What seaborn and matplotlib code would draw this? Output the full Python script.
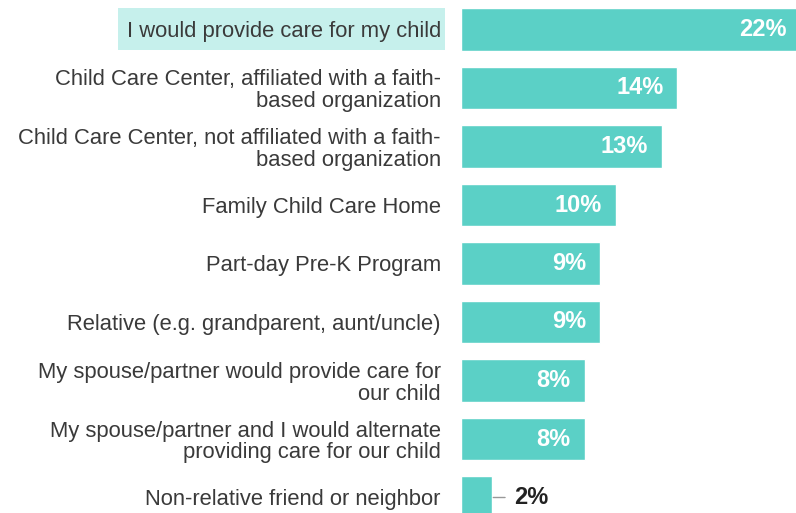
import matplotlib
matplotlib.use("Agg")
import matplotlib.pyplot as plt
import seaborn as sns
import pandas as pd
from matplotlib.patches import Rectangle

# data
options = [
    "I would provide care for my child",
    "Child Care Center, affiliated with a faith-\nbased organization",
    "Child Care Center, not affiliated with a faith-\nbased organization",
    "Family Child Care Home",
    "Part-day Pre-K Program",
    "Relative (e.g. grandparent, aunt/uncle)",
    "My spouse/partner would provide care for\nour child",
    "My spouse/partner and I would alternate\nproviding care for our child",
    "Non-relative friend or neighbor",
]
shares = [22, 14, 13, 10, 9, 9, 8, 8, 2]

TEAL = "#5bd0c6"
HILITE = "#c6f0ec"
TEXT = "#3a3a3a"

sns.set_style("white")
plt.rcParams["font.family"] = ["Liberation Sans", "DejaVu Sans"]

df = pd.DataFrame({"option": options, "share": shares})

W, H = 796, 513
fig = plt.figure(figsize=(W / 100, H / 100), dpi=100)
ax = fig.add_axes([461 / W, 0, (W - 461) / W, 1])

sns.barplot(data=df, y="option", x="share", color=TEAL, width=0.72,
            saturation=1, orient="h", ax=ax)

px_per_unit = 15.45
ax.set_xlim(0, (W - 461) / px_per_unit)
step = 58.5
ax.set_ylim((H - 29.5) / step, -29.5 / step)

ax.set_xlabel("")
ax.set_ylabel("")
ax.set_xticks([])
ax.tick_params(axis="y", length=0, pad=14.5, labelsize=15.8, labelcolor=TEXT)
for lab in ax.get_yticklabels():
    lab.set_linespacing(1.06)
for s in ax.spines.values():
    s.set_visible(False)

# highlight behind the first label
fig.patches.append(Rectangle((118 / W, 1 - 50 / H), 327 / W, 42 / H,
                             transform=fig.transFigure, facecolor=HILITE,
                             edgecolor="none", zorder=-1))

# value labels
for i, v in enumerate(shares):
    if v >= 5:
        ax.annotate(f"{v}%", xy=(v, i), xytext=(-14, 0), textcoords="offset pixels",
                    ha="right", va="center", color="white", fontsize=17,
                    fontweight="bold", annotation_clip=False)
    else:
        ax.annotate(f"{v}%", xy=(v, i), xytext=(22, 0), textcoords="offset pixels",
                    ha="left", va="center", color="#222222", fontsize=17,
                    fontweight="bold",
                    arrowprops=dict(arrowstyle="-", color="#999999", lw=1,
                                    shrinkA=4, shrinkB=1))

fig.savefig("out.png", dpi=100)
